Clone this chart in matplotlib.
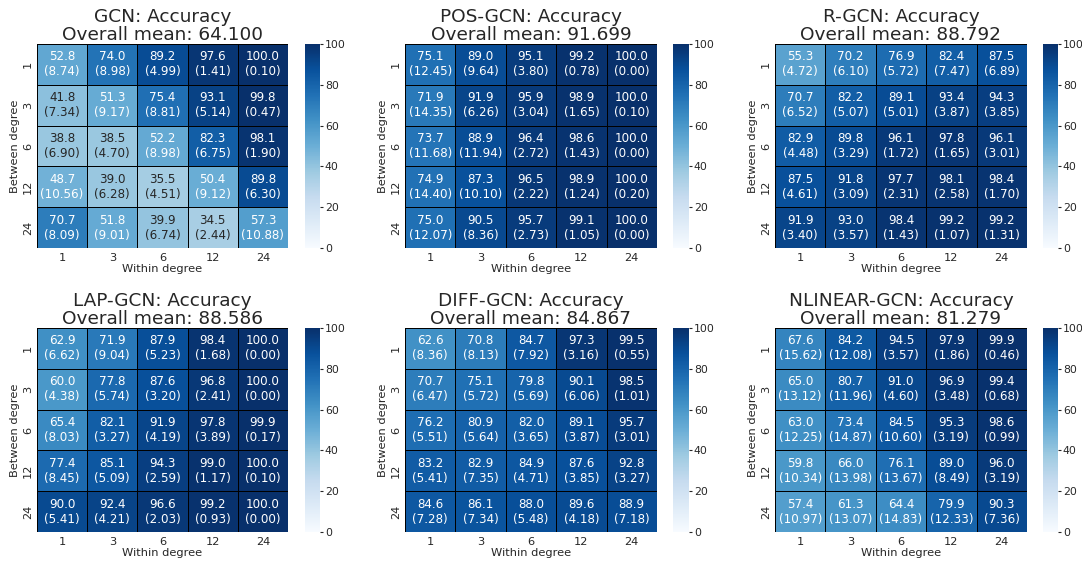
import numpy as np
import matplotlib
matplotlib.use("Agg")
import matplotlib.pyplot as plt
import seaborn as sns

sns.set_style("white")
plt.rcParams['font.family'] = ['DejaVu Sans']

degrees = [1, 3, 6, 12, 24]

models = ["GCN", "POS-GCN", "R-GCN", "LAP-GCN", "DIFF-GCN", "NLINEAR-GCN"]
overall = [64.100, 91.699, 88.792, 88.586, 84.867, 81.279]

# rows: between degree, cols: within degree
gcn_mean = [[52.8, 74.0, 89.2, 97.6, 100.0],
            [41.8, 51.3, 75.4, 93.1, 99.8],
            [38.8, 38.5, 52.2, 82.3, 98.1],
            [48.7, 39.0, 35.5, 50.4, 89.8],
            [70.7, 51.8, 39.9, 34.5, 57.3]]
gcn_std = [[8.74, 8.98, 4.99, 1.41, 0.10],
           [7.34, 9.17, 8.81, 5.14, 0.47],
           [6.90, 4.70, 8.98, 6.75, 1.90],
           [10.56, 6.28, 4.51, 9.12, 6.30],
           [8.09, 9.01, 6.74, 2.44, 10.88]]

pos_mean = [[75.1, 89.0, 95.1, 99.2, 100.0],
            [71.9, 91.9, 95.9, 98.9, 100.0],
            [73.7, 88.9, 96.4, 98.6, 100.0],
            [74.9, 87.3, 96.5, 98.9, 100.0],
            [75.0, 90.5, 95.7, 99.1, 100.0]]
pos_std = [[12.45, 9.64, 3.80, 0.78, 0.00],
           [14.35, 6.26, 3.04, 1.65, 0.10],
           [11.68, 11.94, 2.72, 1.43, 0.00],
           [14.40, 10.10, 2.22, 1.24, 0.20],
           [12.07, 8.36, 2.73, 1.05, 0.00]]

r_mean = [[55.3, 70.2, 76.9, 82.4, 87.5],
          [70.7, 82.2, 89.1, 93.4, 94.3],
          [82.9, 89.8, 96.1, 97.8, 96.1],
          [87.5, 91.8, 97.7, 98.1, 98.4],
          [91.9, 93.0, 98.4, 99.2, 99.2]]
r_std = [[4.72, 6.10, 5.72, 7.47, 6.89],
         [6.52, 5.07, 5.01, 3.87, 3.85],
         [4.48, 3.29, 1.72, 1.65, 3.01],
         [4.61, 3.09, 2.31, 2.58, 1.70],
         [3.40, 3.57, 1.43, 1.07, 1.31]]

lap_mean = [[62.9, 71.9, 87.9, 98.4, 100.0],
            [60.0, 77.8, 87.6, 96.8, 100.0],
            [65.4, 82.1, 91.9, 97.8, 99.9],
            [77.4, 85.1, 94.3, 99.0, 100.0],
            [90.0, 92.4, 96.6, 99.2, 100.0]]
lap_std = [[6.62, 9.04, 5.23, 1.68, 0.00],
           [4.38, 5.74, 3.20, 2.41, 0.00],
           [8.03, 3.27, 4.19, 3.89, 0.17],
           [8.45, 5.09, 2.59, 1.17, 0.10],
           [5.41, 4.21, 2.03, 0.93, 0.00]]

diff_mean = [[62.6, 70.8, 84.7, 97.3, 99.5],
             [70.7, 75.1, 79.8, 90.1, 98.5],
             [76.2, 80.9, 82.0, 89.1, 95.7],
             [83.2, 82.9, 84.9, 87.6, 92.8],
             [84.6, 86.1, 88.0, 89.6, 88.9]]
diff_std = [[8.36, 8.13, 7.92, 3.16, 0.55],
            [6.47, 5.72, 5.69, 6.06, 1.01],
            [5.51, 5.64, 3.65, 3.87, 3.01],
            [5.41, 7.35, 4.71, 3.85, 3.27],
            [7.28, 7.34, 5.48, 4.18, 7.18]]

nlin_mean = [[67.6, 84.2, 94.5, 97.9, 99.9],
             [65.0, 80.7, 91.0, 96.9, 99.4],
             [63.0, 73.4, 84.5, 95.3, 98.6],
             [59.8, 66.0, 76.1, 89.0, 96.0],
             [57.4, 61.3, 64.4, 79.9, 90.3]]
nlin_std = [[15.62, 12.08, 3.57, 1.86, 0.46],
            [13.12, 11.96, 4.60, 3.48, 0.68],
            [12.25, 14.87, 10.60, 3.19, 0.99],
            [10.34, 13.98, 13.67, 8.49, 3.19],
            [10.97, 13.07, 14.83, 12.33, 7.36]]

means = [gcn_mean, pos_mean, r_mean, lap_mean, diff_mean, nlin_mean]
stds = [gcn_std, pos_std, r_std, lap_std, diff_std, nlin_std]

fig = plt.figure(figsize=(10.82, 5.65), dpi=100)
W, H = 1082.0, 565.0

# heatmap boxes in pixels (left, top, right, bottom), colorbar offset
col_x = [(37, 288), (405, 657), (775, 1027)]
row_y = [(44, 248), (328, 532)]
cbar_off = [(305, 320), (673, 689), (1043, 1058)]

for k in range(6):
    r, c = divmod(k, 3)
    x0, x1 = col_x[c]
    y0, y1 = row_y[r]
    ax = fig.add_axes([x0 / W, 1 - y1 / H, (x1 - x0) / W, (y1 - y0) / H])
    cx0, cx1 = cbar_off[c]
    cax = fig.add_axes([cx0 / W, 1 - y1 / H, (cx1 - cx0) / W, (y1 - y0) / H])
    m = np.array(means[k])
    s = np.array(stds[k])
    labels = np.array([["%.1f\n(%.2f)" % (m[i, j], s[i, j]) for j in range(5)] for i in range(5)])
    sns.heatmap(m, ax=ax, cbar_ax=cax, cmap="Blues", vmin=0, vmax=100,
                annot=labels, fmt="", annot_kws={"fontsize": 8.6},
                linewidths=0.6, linecolor="black",
                xticklabels=degrees, yticklabels=degrees)
    ax.set_title("%s: Accuracy\nOverall mean: %.3f" % (models[k], overall[k]),
                 fontsize=13.3, color=".15", pad=3, linespacing=1.0)
    ax.set_xlabel("Within degree", fontsize=8.2, color=".15", labelpad=1)
    ax.set_ylabel("Between degree", fontsize=8.2, color=".15", labelpad=2)
    ax.tick_params(axis="x", length=0, labelsize=8.2, labelcolor=".15", pad=3.5)
    ax.tick_params(axis="y", length=0, labelsize=8.2, labelcolor=".15", pad=3)
    plt.setp(ax.get_yticklabels(), rotation=90, va="center")
    cax.tick_params(length=2.5, width=0.8, labelsize=7.8, labelcolor=".15",
                    color=".15", pad=1)
    cax.set_yticks([0, 20, 40, 60, 80, 100])

fig.savefig("out.png", dpi=100)
